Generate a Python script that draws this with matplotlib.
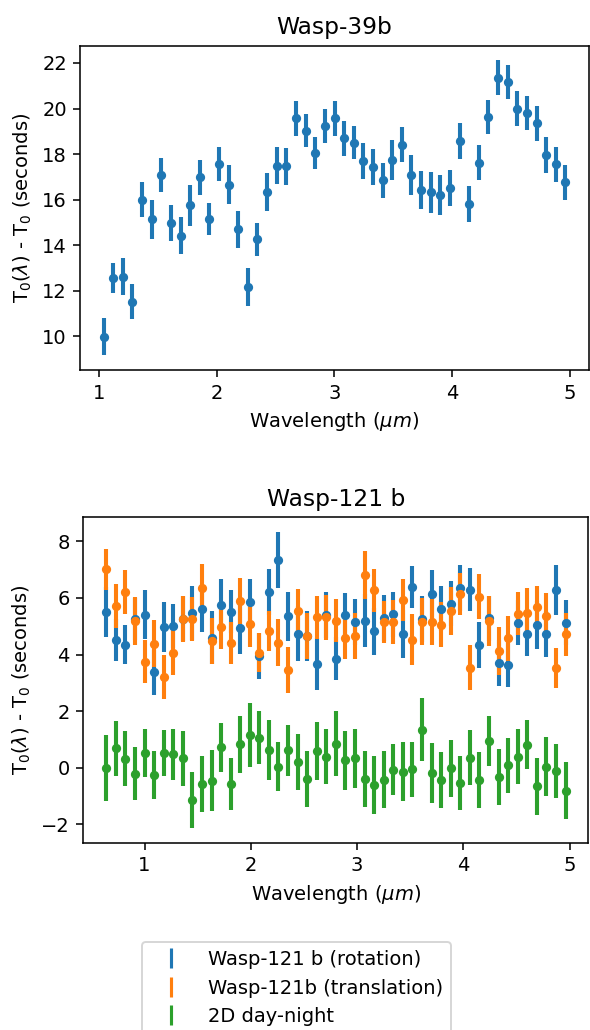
import matplotlib
matplotlib.use("Agg")
import matplotlib.pyplot as plt
from matplotlib.lines import Line2D

# ---- Wasp-39b ----
wasp39_wl = [1.040, 1.122, 1.203, 1.285, 1.367, 1.449, 1.530, 1.612, 1.694, 1.775,
             1.857, 1.939, 2.020, 2.102, 2.184, 2.266, 2.347, 2.429, 2.511, 2.592,
             2.674, 2.756, 2.837, 2.919, 3.001, 3.083, 3.164, 3.246, 3.328, 3.409,
             3.491, 3.573, 3.654, 3.736, 3.818, 3.900, 3.981, 4.063, 4.145, 4.226,
             4.308, 4.390, 4.471, 4.553, 4.635, 4.717, 4.798, 4.880, 4.962]
wasp39_dt = [9.98, 12.56, 12.61, 11.52, 15.99, 15.13, 17.08, 14.97, 14.42, 15.74,
             16.97, 15.13, 17.58, 16.65, 14.69, 12.15, 14.25, 16.33, 17.49, 17.46,
             19.57, 19.03, 18.04, 19.25, 19.57, 18.69, 18.50, 17.71, 17.44, 16.84,
             17.74, 18.41, 17.08, 16.42, 16.33, 16.20, 16.52, 18.57, 15.80, 17.62,
             19.63, 21.36, 21.18, 19.99, 19.79, 19.35, 17.94, 17.56, 16.76]
wasp39_err = [0.82, 0.67, 0.82, 0.77, 0.76, 0.85, 0.75, 0.80, 0.82, 0.90,
              0.77, 0.70, 0.75, 0.85, 0.81, 0.84, 0.73, 0.84, 0.82, 0.81,
              0.78, 0.72, 0.69, 0.75, 0.76, 0.77, 0.73, 0.79, 0.80, 0.78,
              0.88, 0.76, 0.86, 0.84, 0.90, 0.86, 0.80, 0.81, 0.78, 0.77,
              0.75, 0.76, 0.75, 0.76, 0.74, 0.76, 0.79, 0.77, 0.76]

# ---- Wasp-121 b ----
wasp121_wl = [0.64, 0.73, 0.82, 0.91, 1.00, 1.09, 1.18, 1.27, 1.36, 1.45,
              1.54, 1.63, 1.72, 1.81, 1.90, 1.99, 2.08, 2.17, 2.26, 2.35,
              2.44, 2.53, 2.62, 2.71, 2.80, 2.89, 2.98, 3.07, 3.16, 3.25,
              3.34, 3.43, 3.52, 3.61, 3.70, 3.79, 3.88, 3.97, 4.06, 4.15,
              4.24, 4.33, 4.42, 4.51, 4.60, 4.69, 4.78, 4.87, 4.96]
rot_dt = [5.50, 4.51, 4.34, 5.25, 5.41, 3.37, 4.98, 5.01, 5.27, 5.48,
          5.60, 4.60, 5.75, 5.52, 4.94, 5.87, 3.95, 6.21, 7.34, 5.35,
          4.74, 4.66, 3.66, 5.40, 3.86, 5.39, 5.15, 5.20, 4.82, 5.29,
          5.42, 4.72, 6.38, 5.26, 6.13, 5.62, 5.80, 6.35, 6.29, 4.33,
          5.28, 3.70, 3.64, 5.13, 4.74, 5.04, 4.72, 6.28, 5.12]
rot_err = [0.89, 0.75, 0.69, 0.75, 0.86, 0.79, 0.89, 0.79, 0.80, 0.95,
           0.79, 0.94, 0.93, 0.76, 0.91, 0.81, 0.80, 0.82, 0.99, 0.86,
           0.96, 0.89, 0.91, 0.80, 0.76, 0.78, 0.80, 0.93, 0.84, 0.80,
           0.80, 0.85, 0.74, 0.80, 0.86, 0.80, 0.80, 0.80, 0.76, 0.81,
           0.80, 0.82, 0.78, 0.79, 0.79, 0.85, 0.82, 0.89, 0.80]
trans_dt = [7.02, 5.72, 6.21, 5.19, 3.75, 4.39, 3.22, 4.07, 5.26, 5.25,
            6.36, 4.48, 4.99, 4.40, 5.89, 5.07, 4.07, 4.84, 4.42, 3.46,
            5.54, 4.66, 5.31, 5.31, 5.19, 4.57, 4.66, 6.80, 6.27, 5.14,
            5.15, 5.94, 4.52, 5.16, 5.16, 5.06, 5.55, 6.14, 3.54, 6.04,
            5.19, 4.13, 4.58, 5.45, 5.47, 5.68, 5.38, 3.52, 4.72]
trans_err = [0.72, 0.79, 0.79, 0.85, 0.75, 0.82, 0.78, 0.81, 0.80, 0.77,
             0.84, 0.80, 0.81, 0.74, 0.81, 0.81, 0.69, 0.70, 0.84, 0.81,
             0.78, 0.80, 0.76, 0.79, 0.76, 0.74, 0.81, 0.85, 0.76, 0.74,
             0.78, 0.74, 0.90, 0.84, 0.81, 0.79, 0.85, 0.73, 0.80, 0.80,
             0.89, 0.84, 0.80, 0.76, 0.88, 0.75, 0.80, 0.72, 0.76]
dn_dt = [-0.01, 0.68, 0.32, -0.22, 0.53, -0.26, 0.51, 0.48, 0.33, -1.14,
         -0.58, -0.46, 0.72, -0.58, 0.82, 1.15, 1.06, 0.62, 0.04, 0.61,
         0.21, -0.40, 0.59, 0.38, 0.84, 0.26, 0.33, -0.40, -0.61, -0.42,
         -0.07, -0.14, -0.06, 1.34, -0.20, -0.44, -0.02, -0.55, 0.35, -0.44,
         0.94, -0.34, 0.08, 0.39, 0.81, -0.66, 0.04, -0.11, -0.81]
dn_err = [1.16, 0.98, 0.98, 0.94, 0.85, 0.85, 0.82, 0.90, 0.97, 0.99,
          1.00, 1.08, 0.86, 0.93, 1.02, 1.13, 0.93, 1.05, 0.87, 0.89,
          0.99, 1.00, 1.02, 0.97, 1.15, 1.05, 1.05, 0.98, 1.04, 1.02,
          0.89, 1.04, 0.96, 1.12, 1.06, 0.99, 1.01, 0.95, 0.97, 1.00,
          0.88, 0.99, 0.96, 0.97, 0.86, 1.00, 1.05, 0.96, 1.02]

series_labels = ["Wasp-121 b (rotation)", "Wasp-121b (translation)", "2D day-night"]
colors = ["#1f77b4", "#ff7f0e", "#2ca02c"]

W, H, DPI = 590, 1030, 140
fig = plt.figure(figsize=(W / DPI, H / DPI), dpi=DPI)

def px_axes(l, t, r, b):
    return fig.add_axes([l / W, 1 - b / H, (r - l) / W, (b - t) / H])

ylab = r"T$_0$($\lambda$) - T$_0$ (seconds)"
xlab = r"Wavelength ($\mu m$)"
eb_kw = dict(fmt='.', markersize=7.5, elinewidth=2.1)

ax1 = px_axes(80.5, 45.5, 588.5, 370)
ax1.errorbar(wasp39_wl, wasp39_dt, yerr=wasp39_err, color=colors[0], **eb_kw)
ax1.set_title("Wasp-39b")
ax1.set_xlabel(xlab)
ax1.set_ylabel(ylab)

ax2 = px_axes(83.3, 517.3, 588.5, 842.7)
ax2.errorbar(wasp121_wl, rot_dt, yerr=rot_err, color=colors[0], **eb_kw)
ax2.errorbar(wasp121_wl, trans_dt, yerr=trans_err, color=colors[1], **eb_kw)
ax2.errorbar(wasp121_wl, dn_dt, yerr=dn_err, color=colors[2], **eb_kw)
ax2.set_title("Wasp-121 b")
ax2.set_xlabel(xlab)
ax2.set_ylabel(ylab)

handles = [Line2D([], [], color=c, marker='|', linestyle='none',
                  markersize=10, markeredgewidth=1.6) for c in colors]
fig.legend(handles, series_labels, loc='upper left',
           bbox_to_anchor=(142 / W, 1 - 942 / H), borderaxespad=0,
           handlelength=2.2)

fig.savefig("out.png", dpi=DPI)
